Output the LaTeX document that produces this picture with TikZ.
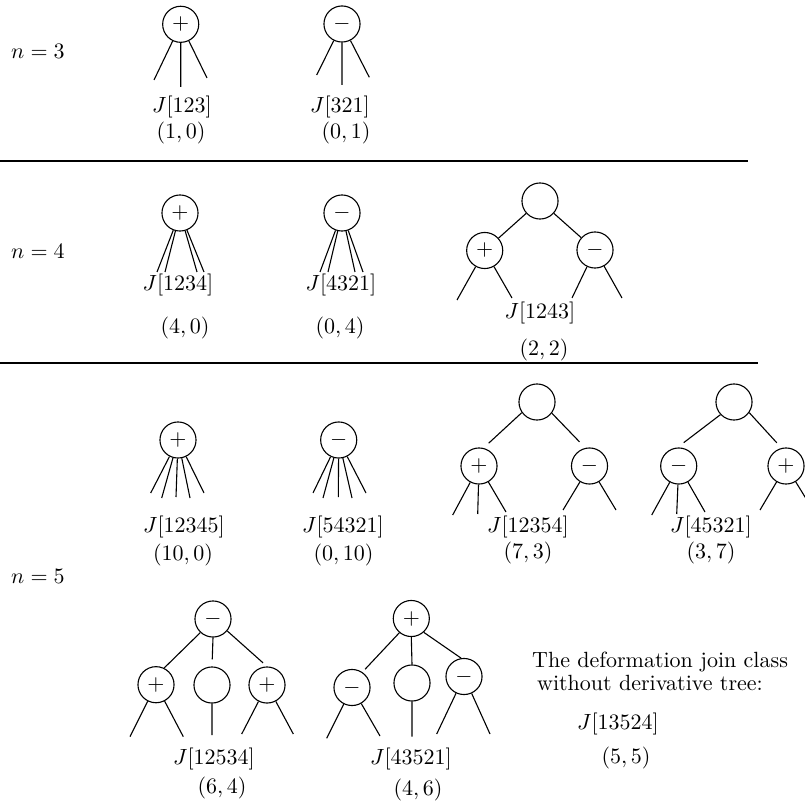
\documentclass[tikz,border=0pt]{standalone}
\begin{document}
\begin{tikzpicture}[x=0.4545pt,y=-0.4545pt,
  vtx/.style={circle,draw,line width=0.5pt,minimum size=16.4pt,inner sep=0pt},
  branch/.style={line width=0.5pt},
  lbl/.style={inner sep=0pt},
  divider/.style={line width=0.8pt}]
\useasboundingbox (0,0) rectangle (805,805);

% ---------- row labels ----------
\node[lbl] (n3) at (38,51.5) {$n=3$};
\node[lbl] (n4) at (38,251.5) {$n=4$};
\node[lbl] (n5) at (38,576.5) {$n=5$};

% ---------- dividers ----------
\coordinate (d1a) at (0,161);   \coordinate (d1b) at (748,161);
\coordinate (d2a) at (0,363);   \coordinate (d2b) at (758,363);
\draw[divider] (d1a) -- (d1b);
\draw[divider] (d2a) -- (d2b);

% ================= n = 3 =================
\node[vtx] (a1) at (180.7,24.3) {$+$};
\coordinate (a1l) at (154,80); \coordinate (a1m) at (180.7,87); \coordinate (a1r) at (207,78);
\draw[branch] (a1) -- (a1l) (a1) -- (a1m) (a1) -- (a1r);
\node[lbl] (a1j) at (182,107) {$J[123]$};
\node[lbl] (a1c) at (181,133) {$(1,0)$};

\node[vtx] (a2) at (342,24) {$-$};
\coordinate (a2l) at (316.7,75); \coordinate (a2m) at (342,85); \coordinate (a2r) at (369.3,77.3);
\draw[branch] (a2) -- (a2l) (a2) -- (a2m) (a2) -- (a2r);
\node[lbl] (a2j) at (340,107) {$J[321]$};
\node[lbl] (a2c) at (346,133) {$(0,1)$};

% ================= n = 4 =================
\node[vtx] (b1) at (180,213) {$+$};
\coordinate (b1a) at (157,272); \coordinate (b1b) at (165,272);
\coordinate (b1c) at (197,272); \coordinate (b1d) at (204,272);
\draw[branch] (b1) -- (b1a) (b1) -- (b1b) (b1) -- (b1c) (b1) -- (b1d);
\node[lbl] (b1j) at (178,285) {$J[1234]$};
\node[lbl] (b1k) at (185,328) {$(4,0)$};

\node[vtx] (b2) at (342,213) {$-$};
\coordinate (b2a) at (320,272); \coordinate (b2b) at (328,272);
\coordinate (b2c) at (355,272); \coordinate (b2d) at (363,272);
\draw[branch] (b2) -- (b2a) (b2) -- (b2b) (b2) -- (b2c) (b2) -- (b2d);
\node[lbl] (b2j) at (341,285) {$J[4321]$};
\node[lbl] (b2k) at (340,328) {$(0,4)$};

\node[vtx] (b3t) at (540,201) {};
\node[vtx] (b3p) at (484.7,250.5) {$+$};
\node[vtx] (b3m) at (595,250) {$-$};
\draw[branch] (b3t) -- (b3p) (b3t) -- (b3m);
\coordinate (b3a) at (457,300); \coordinate (b3b) at (512,298);
\coordinate (b3c) at (572,298); \coordinate (b3d) at (622,298);
\draw[branch] (b3p) -- (b3a) (b3p) -- (b3b) (b3m) -- (b3c) (b3m) -- (b3d);
\node[lbl] (b3j) at (540,312.5) {$J[1243]$};
\node[lbl] (b3k) at (544,350) {$(2,2)$};

% ================= n = 5, first row =================
\node[vtx] (c1) at (178,440) {$+$};
\coordinate (c1a) at (150.7,493); \coordinate (c1b) at (161.7,498);
\coordinate (c1c) at (176,497);   \coordinate (c1d) at (190,498);
\coordinate (c1e) at (204,493);
\draw[branch] (c1) -- (c1a) (c1) -- (c1b) (c1) -- (c1c) (c1) -- (c1d) (c1) -- (c1e);
\node[lbl] (c1j) at (184,527) {$J[12345]$};
\node[lbl] (c1k) at (183,555) {$(10,0)$};

\node[vtx] (c2) at (338.7,440) {$-$};
\coordinate (c2a) at (313,493); \coordinate (c2b) at (323,498);
\coordinate (c2c) at (338.3,497); \coordinate (c2d) at (352,498);
\coordinate (c2e) at (366,493);
\draw[branch] (c2) -- (c2a) (c2) -- (c2b) (c2) -- (c2c) (c2) -- (c2d) (c2) -- (c2e);
\node[lbl] (c2j) at (343,527) {$J[54321]$};
\node[lbl] (c2k) at (343.5,555) {$(0,10)$};

\node[vtx] (c3t) at (537,402) {};
\node[vtx] (c3p) at (479,466) {$+$};
\node[vtx] (c3m) at (589.5,466) {$-$};
\draw[branch,shorten >=3.2pt] (c3t.-145) -- (c3p.76);
\draw[branch,shorten >=3.8pt] (c3t.-37) -- (c3m.103);
\coordinate (c3a) at (452.7,515); \coordinate (c3b) at (477.7,514); \coordinate (c3c) at (506,512);
\coordinate (c3d) at (563,510);   \coordinate (c3e) at (616,510);
\draw[branch] (c3p) -- (c3a) (c3p) -- (c3b) (c3p) -- (c3c) (c3m) -- (c3d) (c3m) -- (c3e);
\node[lbl] (c3j) at (528,527) {$J[12354]$};
\node[lbl] (c3k) at (528,553) {$(7,3)$};

\node[vtx] (c4t) at (734,402) {};
\node[vtx] (c4m) at (678.7,466) {$-$};
\node[vtx] (c4p) at (786,466) {$+$};
\draw[branch,shorten >=3.6pt] (c4t.-137) -- (c4m.94);
\draw[branch,shorten >=3.2pt] (c4t.-35) -- (c4p.104);
\coordinate (c4a) at (651.7,515); \coordinate (c4b) at (676.7,514); \coordinate (c4c) at (705,512);
\coordinate (c4d) at (760,510);   \coordinate (c4e) at (813,510);
\draw[branch] (c4m) -- (c4a) (c4m) -- (c4b) (c4m) -- (c4c) (c4p) -- (c4d) (c4p) -- (c4e);
\node[lbl] (c4j) at (711,527) {$J[45321]$};
\node[lbl] (c4k) at (711,553) {$(3,7)$};

% ================= n = 5, second row =================
\node[vtx] (d1t) at (213,619) {$-$};
\node[vtx] (d1l) at (156,684.7) {$+$};
\node[vtx] (d1m) at (212,685) {};
\node[vtx] (d1r) at (267,685) {$+$};
\draw[branch] (d1t.-133) -- (d1l.64);
\draw[branch,shorten >=3.2pt] (d1t.south) -- (d1m.north);
\draw[branch,shorten >=2.4pt] (d1t.-40) -- (d1r.north);
\coordinate (d1a) at (130,736.7); \coordinate (d1b) at (183.3,736.7);
\coordinate (d1c) at (212,735);
\coordinate (d1d) at (241.7,734); \coordinate (d1e) at (293.3,734);
\draw[branch] (d1l) -- (d1a) (d1l) -- (d1b) (d1m) -- (d1c) (d1r) -- (d1d) (d1r) -- (d1e);
\node[lbl] (d1j) at (214,759) {$J[12534]$};
\node[lbl] (d1k) at (222,788) {$(6,4)$};

\node[vtx] (d2t) at (411.3,618.5) {$+$};
\node[vtx] (d2l) at (352,687.5) {$-$};
\node[vtx] (d2m) at (412,683) {};
\node[vtx] (d2r) at (464,676.5) {$-$};
\draw[branch,shorten >=1.8pt] (d2t.-130) -- (d2l.56);
\draw[branch] (d2t.south) -- (d2m.north);
\draw[branch] (d2t.-48) -- (d2r.99);
\coordinate (d2a) at (326.7,738.3); \coordinate (d2b) at (380,736);
\coordinate (d2c) at (412,736.7);
\coordinate (d2d) at (436.7,734); \coordinate (d2e) at (490,734);
\draw[branch] (d2l) -- (d2a) (d2l) -- (d2b) (d2m) -- (d2c) (d2r) -- (d2d) (d2r) -- (d2e);
\node[lbl] (d2j) at (411,759) {$J[43521]$};
\node[lbl] (d2k) at (418,790) {$(4,6)$};

% ---------- class without a derivative tree ----------
\node[lbl,anchor=base west] (txt1) at (531.7,667.5) {The deformation join class};
\node[lbl,anchor=base west] (txt2) at (536.7,690) {without derivative tree:};
\node[lbl] (ej) at (618,724) {$J[13524]$};
\node[lbl] (ek) at (626,758) {$(5,5)$};
\end{tikzpicture}
\end{document}
